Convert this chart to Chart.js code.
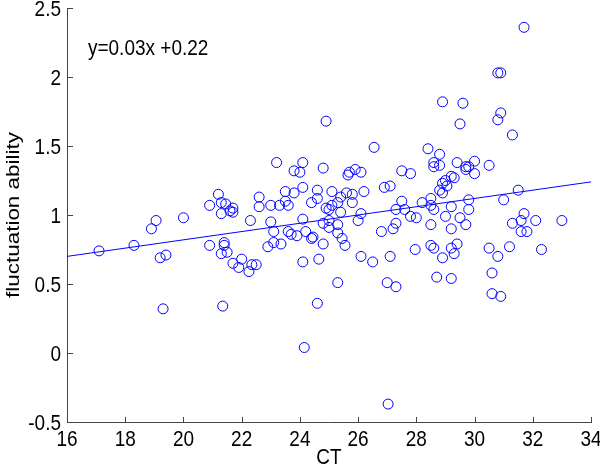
<!DOCTYPE html>
<html lang="en">
<head>
  <meta charset="UTF-8">
  <title>CT vs fluctuation ability</title>
  <script src="https://cdn.jsdelivr.net/npm/chart.js"></script>
  <style>
    html, body { margin: 0; padding: 0; background: #fff; }
    #wrap { width: 600px; height: 467px; }
  </style>
</head>
<body>
  <div id="wrap"><canvas id="ctChart"></canvas></div>
  <script>
    // scatter values
    const ctValues = [
      17.1, 18.3, 18.9, 19.06, 19.2, 19.4, 19.3, 20.0, 20.9, 20.9,
      21.2, 21.3, 21.45, 21.3, 21.6, 21.7, 21.7, 21.4, 21.4, 21.3,
      21.5, 21.7, 21.9, 22.0, 22.35, 22.5, 22.25, 21.35, 22.3, 22.6,
      22.6, 23.0, 23.3, 23.6, 23.5, 23.5, 23.8, 23.2, 23.0, 23.1,
      22.9, 23.1, 23.35, 23.6, 23.7, 23.9, 24.2, 24.4, 24.45, 24.1,
      24.1, 24.1, 23.8, 24.0, 24.1, 24.15, 24.6, 24.6, 24.4, 24.8,
      24.9, 24.8, 25.0, 25.0, 24.8, 24.65, 24.6, 24.9, 25.0, 25.1,
      25.1, 25.3, 25.4, 25.6, 25.4, 25.3, 25.3, 25.45, 25.55, 25.3,
      25.8, 26.2, 25.8, 25.7, 25.9, 26.1, 25.65, 26.1, 26.0, 26.1,
      26.5, 26.55, 26.8, 26.9, 27.1, 27.1, 27.0, 27.3, 27.03, 27.2,
      27.3, 27.3, 27.6, 27.5, 27.5, 27.8, 27.8, 28.0, 27.96, 28.2,
      28.5, 28.5, 28.6, 28.5, 28.4, 28.8, 28.6, 28.6, 28.8, 28.5,
      28.6, 28.9, 28.7, 28.9, 28.8, 28.9, 29.0, 28.9, 29.0, 29.2,
      29.3, 29.4, 29.7, 29.8, 30.0, 30.0, 29.7, 30.5, 29.8, 29.2,
      29.8, 29.5, 29.7, 29.2, 29.4, 29.2, 29.3, 29.2, 29.6, 29.5,
      30.8, 30.9, 30.9, 30.8, 31.3, 31.7, 31.0, 31.5, 31.7, 31.6,
      31.3, 32.1, 33.0, 31.6, 31.8, 32.3, 31.2, 30.5, 30.8, 30.6,
      30.6, 30.9, 29.05
    ];
    const fluctValues = [
      0.74, 0.78, 0.90, 0.96, 0.69, 0.71, 0.32, 0.98, 1.07, 0.78,
      1.15, 1.09, 1.08, 1.01, 1.03, 1.05, 1.02, 0.80, 0.78, 0.72,
      0.73, 0.65, 0.62, 0.68, 0.64, 0.64, 0.59, 0.34, 0.96, 1.13,
      1.06, 1.07, 1.07, 1.07, 1.10, 1.17, 1.16, 1.38, 0.95, 0.88,
      0.77, 0.80, 0.79, 0.88, 0.86, 0.85, 0.88, 0.83, 0.84, 0.97,
      1.20, 1.38, 1.32, 1.31, 0.66, 0.04, 1.18, 1.12, 1.09, 1.34,
      1.68, 0.94, 0.96, 0.91, 0.79, 0.68, 0.36, 1.05, 1.04, 1.17,
      1.07, 1.09, 1.13, 1.16, 1.02, 0.93, 0.87, 0.83, 0.78, 0.51,
      1.15, 1.17, 1.09, 1.31, 1.33, 1.31, 1.29, 1.01, 0.96, 0.70,
      0.66, 1.49, 0.88, 1.20, 1.21, 0.70, 0.51, 0.48, -0.37, 0.90,
      0.94, 1.04, 1.04, 1.10, 1.32, 1.30, 0.99, 0.98, 0.75, 1.09,
      1.12, 1.07, 1.04, 0.93, 1.48, 1.44, 1.38, 1.35, 1.36, 0.78,
      0.76, 0.69, 0.55, 1.23, 1.18, 1.16, 0.99, 1.82, 1.25, 1.28,
      1.27, 1.38, 1.35, 1.35, 1.39, 1.30, 1.33, 1.36, 1.11, 1.06,
      1.04, 0.98, 0.93, 0.90, 0.79, 0.76, 0.72, 0.54, 1.81, 1.66,
      2.03, 2.03, 1.74, 1.69, 1.58, 2.36, 1.11, 1.18, 1.01, 0.96,
      0.94, 0.96, 0.96, 0.88, 0.88, 0.75, 0.77, 0.76, 0.70, 0.58,
      0.43, 0.41, 1.21
    ];

    // fitted line end points
    const fitX = [16, 34];
    const fitY = [0.70, 1.24];
    const fitLabel = 'y=0.03x +0.22';

    const xTicks = [16, 18, 20, 22, 24, 26, 28, 30, 32, 34];
    const xTickLabels = ['16', '18', '20', '22', '24', '26', '28', '30', '32', '34'];
    const yTicks = [-0.5, 0, 0.5, 1, 1.5, 2, 2.5];
    const yTickLabels = ['-0.5', '0', '0.5', '1', '1.5', '2', '2.5'];

    const FONT = 'Liberation Sans, Arial, Helvetica, sans-serif';
    const BLUE = '#0000ff';
    const FS = 19;      // font size
    const SY = 1.18;    // original figure is a bit stretched vertically

    const points = ctValues.map((x, i) => ({ x: x, y: fluctValues[i] }));
    const fitPoints = fitX.map((x, i) => ({ x: x, y: fitY[i] }));

    // MATLAB style inward ticks, labels and equation text
    const extras = {
      id: 'extras',
      afterDraw(chart) {
        const ctx = chart.ctx;
        const xs = chart.scales.x, ys = chart.scales.y;
        const area = chart.chartArea;
        ctx.save();
        ctx.strokeStyle = '#444';
        ctx.lineWidth = 1;
        ctx.beginPath();
        xTicks.forEach(v => {
          const px = Math.round(xs.getPixelForValue(v)) + 0.5;
          ctx.moveTo(px, area.bottom);
          ctx.lineTo(px, area.bottom - 5);
        });
        yTicks.forEach(v => {
          const py = Math.round(ys.getPixelForValue(v)) + 0.5;
          ctx.moveTo(area.left, py);
          ctx.lineTo(area.left + 6, py);
        });
        ctx.stroke();

        ctx.fillStyle = '#000';
        ctx.font = FS + 'px ' + FONT;
        ctx.textBaseline = 'alphabetic';
        const half = 0.716 * FS * SY / 2;

        function txt(s, x, y, align) {
          ctx.save();
          ctx.translate(x, y);
          ctx.scale(1, SY);
          ctx.textAlign = align;
          ctx.fillText(s, 0, 0);
          ctx.restore();
        }

        yTicks.forEach((v, i) => {
          txt(yTickLabels[i], area.left - 6, ys.getPixelForValue(v) + half, 'right');
        });
        xTicks.forEach((v, i) => {
          txt(xTickLabels[i], xs.getPixelForValue(v), area.bottom + 24, 'center');
        });
        txt('CT', (area.left + area.right) / 2, area.bottom + 42, 'center');
        txt(fitLabel, xs.getPixelForValue(16.72), ys.getPixelForValue(2.22) + half, 'left');

        // y title
        ctx.save();
        ctx.translate(14, (area.top + area.bottom) / 2);
        ctx.rotate(-Math.PI / 2);
        ctx.scale(SY, 1);
        ctx.textAlign = 'center';
        ctx.textBaseline = 'middle';
        ctx.fillText('fluctuation ability', 0, 0);
        ctx.restore();

        ctx.restore();
      }
    };

    new Chart(document.getElementById('ctChart'), {
      type: 'scatter',
      data: {
        datasets: [
          {
            data: points,
            showLine: false,
            pointStyle: 'circle',
            pointRadius: 5,
            pointBorderWidth: 1,
            pointBorderColor: BLUE,
            pointBackgroundColor: 'rgba(0,0,0,0)',
            pointHoverRadius: 5
          },
          {
            data: fitPoints,
            showLine: true,
            borderColor: BLUE,
            borderWidth: 1,
            pointRadius: 0,
            fill: false
          }
        ]
      },
      options: {
        responsive: true,
        maintainAspectRatio: false,
        animation: false,
        events: [],
        layout: { padding: { top: 8, right: 9, left: 0, bottom: 0 } },
        plugins: {
          legend: { display: false },
          tooltip: { enabled: false }
        },
        scales: {
          x: {
            type: 'linear',
            min: 16,
            max: 34,
            afterBuildTicks: s => { s.ticks = xTicks.map(v => ({ value: v })); },
            afterFit: s => { s.height = 45; s.paddingLeft = 0; s.paddingRight = 0; },
            grid: { display: true, drawOnChartArea: false, drawTicks: false },
            border: { display: true, color: '#444', width: 1 },
            ticks: { display: false },
            title: { display: false }
          },
          y: {
            type: 'linear',
            min: -0.5,
            max: 2.5,
            afterBuildTicks: s => { s.ticks = yTicks.map(v => ({ value: v })); },
            afterFit: s => { s.width = 67; s.paddingTop = 0; s.paddingBottom = 0; },
            grid: { display: true, drawOnChartArea: false, drawTicks: false },
            border: { display: true, color: '#444', width: 1 },
            ticks: { display: false },
            title: { display: false }
          }
        }
      },
      plugins: [extras]
    });
  </script>
</body>
</html>
